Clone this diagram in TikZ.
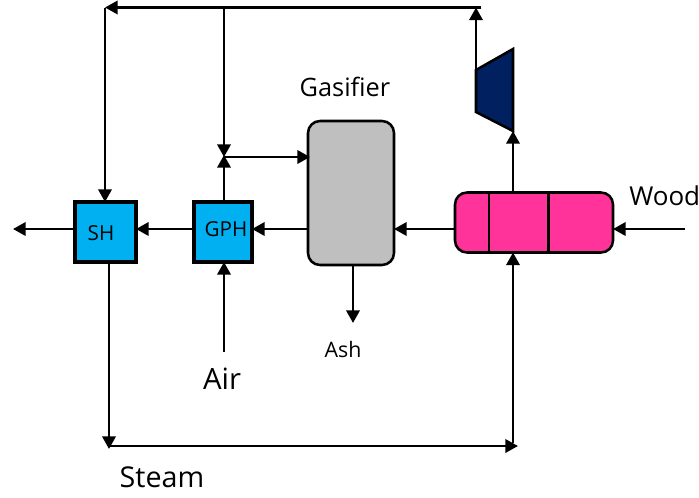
\documentclass[tikz,border=0pt]{standalone}
\usepackage{fontspec}
\setmainfont{Open Sans}
\usetikzlibrary{arrows.meta,calc}
\definecolor{hxblue}{HTML}{00B0F0}
\definecolor{gasgrey}{HTML}{BFBFBF}
\definecolor{drypink}{HTML}{FF3399}
\definecolor{turbnavy}{HTML}{002060}
\tikzset{
  pipe/.style={draw=black,line width=1.9pt,-{Triangle[length=9.5pt,width=10pt]}},
  hx/.style={draw=black,line width=2.4pt,fill=hxblue,minimum height=45pt,inner sep=0pt,outer sep=0pt,text=black},
  vessel/.style={draw=black,line width=1.9pt,rounded corners=9pt,inner sep=0pt,outer sep=0pt},
  lbl/.style={inner sep=0pt,text=black}
}
\begin{document}
\begin{tikzpicture}[x=0.75pt,y=-0.75pt]
\useasboundingbox (0,0) rectangle (699,497);
% levels and free ends
\coordinate (lvl) at (0,229);
\coordinate (out) at (13,229);
\coordinate (woodin) at (685,229);
\coordinate (airin) at (224,352);
\coordinate (ashout) at (353,323);
\coordinate (cornerTR) at (476,7.5);
\coordinate (cornerTL) at (105,7.5);
\coordinate (teeTop) at (224,7.5);
\coordinate (mixA) at (224,157);
\coordinate (cornerBL) at (109,446);
\coordinate (cornerBR) at (518,446);
\coordinate (dryin) at (513,443);
% equipment
\node[hx,minimum width=45.75pt] (sh) at (105.5,232) {};
\node[lbl,font=\fontsize{15.5}{18}\selectfont] (shl) at (101,233) {SH};
\node[hx,minimum width=43.5pt] (gph) at (223,232) {};
\node[lbl,font=\fontsize{15.5}{18}\selectfont] (gphl) at (226,229) {GPH};
\node[vessel,fill=gasgrey,minimum width=64.5pt,minimum height=108pt] (gas) at (351,193) {};
\node[vessel,fill=drypink,minimum width=118.5pt,minimum height=45pt] (dry) at (534,222.5) {};
\draw[line width=1.9pt] (489,192.5) -- (489,252.5) (548.5,192.5) -- (548.5,252.5);
\draw[line width=1.9pt,fill=turbnavy,line join=miter] (476,70) coordinate (tin) -- (513,49) -- (513,131) coordinate (trb) -- (476,112) -- cycle;
% connectors
\draw[pipe] (tin) -- (cornerTR);
\draw[pipe] ($(cornerTR)+(5,0)$) -- (cornerTL);
\draw[pipe] (cornerTL) -- (sh.north -| cornerTL);
\draw[pipe] (teeTop) -- (mixA);
\draw[pipe] (gph.north -| mixA) -- ($(mixA)+(0,-2)$);
\draw[pipe] (mixA) -- ($(gas.west |- mixA)+(2,0)$);
\draw[pipe] (woodin) -- (dry.east |- lvl);
\draw[pipe] (dry.west |- lvl) -- (gas.east |- lvl);
\draw[pipe] (gas.west |- lvl) -- (gph.east |- lvl);
\draw[pipe] (gph.west |- lvl) -- (sh.east |- lvl);
\draw[pipe] (sh.west |- lvl) -- (out);
\draw[pipe] (airin) -- (gph.south -| airin);
\draw[pipe] (gas.south -| ashout) -- (ashout);
\draw[pipe] (sh.south -| cornerBL) -- ($(cornerBL)+(0,3)$);
\draw[pipe] (cornerBL) -- (cornerBR);
\draw[pipe] (dryin) -- (dry.south -| dryin);
\draw[pipe] (dry.north -| trb) -- (trb);
% labels
\node[lbl,font=\fontsize{19}{22}\selectfont] (lgas) at (345,87) {Gasifier};
\node[lbl,font=\fontsize{19.5}{22}\selectfont,anchor=west] (lwood) at (629,196) {Wood};
\node[lbl,font=\fontsize{16}{18}\selectfont] (lash) at (343,349) {Ash};
\node[lbl,font=\fontsize{22}{26}\selectfont] (lair) at (222,379) {Air};
\node[lbl,font=\fontsize{21.5}{26}\selectfont] (lsteam) at (162,477) {Steam};
\end{tikzpicture}
\end{document}
